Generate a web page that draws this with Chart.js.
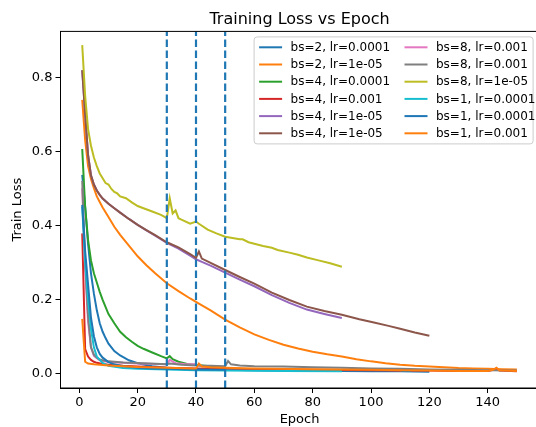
<!DOCTYPE html>
<html>
<head>
<meta charset="utf-8">
<script src="https://cdn.jsdelivr.net/npm/chart.js@4.4.1/dist/chart.umd.min.js"></script>
<style>
html, body { margin: 0; padding: 0; background: #fff; overflow: hidden; }
#wrap { width: 536px; height: 427px; overflow: hidden; }
</style>
</head>
<body>
<div id="wrap"><canvas id="lossChart" width="540" height="427" style="width:540px;height:427px"></canvas></div>
<script>
const seriesLabels = [
    'bs=2, lr=0.0001', 'bs=2, lr=1e-05', 'bs=4, lr=0.0001', 'bs=4, lr=0.001',
    'bs=4, lr=1e-05', 'bs=4, lr=1e-05', 'bs=8, lr=0.001', 'bs=8, lr=0.001',
    'bs=8, lr=1e-05', 'bs=1, lr=0.0001', 'bs=1, lr=0.0001', 'bs=1, lr=0.001'
];
const seriesColors = [
    '#1f77b4', '#ff7f0e', '#2ca02c', '#d62728', '#9467bd', '#8c564b',
    '#e377c2', '#7f7f7f', '#bcbd22', '#17becf', '#1f77b4', '#ff7f0e'
];

// bs=2, lr=0.0001
const epochsS2e4 = [1, 2, 3, 4, 5, 6, 7, 8, 9, 10, 12, 14, 17, 20, 25, 30, 35, 40, 50, 60, 70, 80, 90, 100, 110, 120];
const lossS2e4 = [0.536, 0.45, 0.35, 0.27, 0.215, 0.17, 0.135, 0.112, 0.095, 0.08, 0.06, 0.048, 0.035, 0.027, 0.019, 0.015, 0.013, 0.011, 0.009, 0.008, 0.007, 0.006, 0.006, 0.005, 0.005, 0.004];
// bs=2, lr=1e-05
const epochsS2e5 = [1, 2, 3, 4, 5, 6, 7, 8, 10, 12, 14, 17, 20, 23, 26, 30, 34, 38, 41, 45, 50, 55, 60, 65, 70, 75, 80, 85, 90, 95, 100, 105, 110, 115, 120, 125, 130, 135, 140, 145, 150];
const lossS2e5 = [0.739, 0.63, 0.56, 0.525, 0.5, 0.478, 0.463, 0.448, 0.422, 0.396, 0.374, 0.345, 0.316, 0.292, 0.27, 0.243, 0.222, 0.202, 0.188, 0.17, 0.145, 0.124, 0.105, 0.09, 0.077, 0.067, 0.058, 0.051, 0.045, 0.038, 0.032, 0.027, 0.023, 0.02, 0.018, 0.016, 0.014, 0.013, 0.012, 0.011, 0.01];
// bs=4, lr=0.0001
const epochsS4e4 = [1, 2, 3, 4, 5, 6, 7, 8, 10, 12, 14, 16, 18, 20, 22, 25, 28, 30, 31, 32, 34, 37, 40, 43, 46, 50];
const lossS4e4 = [0.606, 0.45, 0.36, 0.305, 0.27, 0.245, 0.22, 0.198, 0.16, 0.135, 0.112, 0.097, 0.085, 0.074, 0.066, 0.056, 0.046, 0.04, 0.046, 0.038, 0.031, 0.025, 0.022, 0.02, 0.018, 0.016];
// bs=4, lr=0.001
const epochsS4e3 = [1, 2, 3, 4, 5, 6, 8, 10, 15, 20, 30, 40, 50, 60, 80, 100, 110, 112, 114, 120, 130, 140, 142, 143, 144, 150];
const lossS4e3 = [0.378, 0.065, 0.045, 0.036, 0.031, 0.028, 0.025, 0.023, 0.02, 0.018, 0.015, 0.013, 0.012, 0.011, 0.009, 0.008, 0.007, 0.011, 0.007, 0.007, 0.006, 0.006, 0.009, 0.013, 0.007, 0.005];
// bs=4, lr=1e-05 (first run)
const epochsS4e5a = [1, 2, 3, 4, 5, 6, 7, 8, 10, 12, 14, 17, 20, 23, 26, 30, 34, 38, 40, 42, 45, 50, 55, 60, 66, 72, 78, 84, 90];
const lossS4e5a = [0.819, 0.70, 0.59, 0.535, 0.51, 0.494, 0.482, 0.472, 0.458, 0.446, 0.434, 0.417, 0.401, 0.386, 0.372, 0.352, 0.337, 0.318, 0.308, 0.301, 0.291, 0.272, 0.253, 0.235, 0.211, 0.19, 0.172, 0.16, 0.149];
// bs=4, lr=1e-05 (second run)
const epochsS4e5b = [1, 2, 3, 4, 5, 6, 7, 8, 10, 12, 14, 17, 20, 23, 26, 30, 34, 38, 40, 41, 42, 45, 50, 55, 60, 66, 72, 78, 84, 90, 96, 101, 106, 110, 115, 120];
const lossS4e5b = [0.819, 0.70, 0.59, 0.535, 0.51, 0.494, 0.482, 0.472, 0.458, 0.446, 0.434, 0.417, 0.401, 0.387, 0.373, 0.354, 0.34, 0.322, 0.312, 0.329, 0.31, 0.298, 0.279, 0.26, 0.242, 0.218, 0.198, 0.18, 0.168, 0.158, 0.146, 0.137, 0.128, 0.12, 0.11, 0.101];
// bs=8, lr=0.001 (first run)
const epochsS8e3a = [1, 2, 3, 4, 5, 7, 10, 20, 30, 31, 33, 36, 40];
const lossS8e3a = [0.5, 0.28, 0.14, 0.07, 0.047, 0.035, 0.03, 0.026, 0.024, 0.036, 0.027, 0.025, 0.024];
// bs=8, lr=0.001 (second run)
const epochsS8e3b = [1, 2, 3, 4, 5, 6, 7, 8, 10, 15, 22, 30, 31, 35, 40, 45, 50, 51, 52, 55, 60, 70, 80, 90, 100, 110, 120, 130, 140, 150];
const lossS8e3b = [0.52, 0.3, 0.155, 0.07, 0.05, 0.042, 0.037, 0.035, 0.032, 0.029, 0.027, 0.024, 0.026, 0.023, 0.021, 0.02, 0.019, 0.033, 0.024, 0.021, 0.019, 0.018, 0.016, 0.015, 0.013, 0.012, 0.01, 0.009, 0.008, 0.007];
// bs=8, lr=1e-05
const epochsS8e5 = [1, 2, 3, 4, 5, 6, 7, 8, 9, 10, 11, 12, 13, 14, 16, 18, 20, 22, 25, 28, 30, 31, 32, 33, 34, 35, 38, 40, 41, 44, 47, 50, 53, 55, 56, 58, 60, 63, 66, 68, 72, 75, 78, 82, 86, 90];
const lossS8e5 = [0.887, 0.75, 0.66, 0.615, 0.583, 0.56, 0.54, 0.527, 0.514, 0.51, 0.498, 0.49, 0.486, 0.478, 0.473, 0.462, 0.452, 0.446, 0.437, 0.428, 0.419, 0.473, 0.432, 0.44, 0.419, 0.415, 0.404, 0.41, 0.404, 0.388, 0.378, 0.369, 0.365, 0.362, 0.362, 0.354, 0.35, 0.344, 0.339, 0.333, 0.326, 0.32, 0.313, 0.305, 0.297, 0.288];
// bs=1, lr=0.0001 (first run)
const epochsS1e4a = [1, 2, 3, 4, 5, 6, 8, 10, 15, 20, 30, 40, 50, 70, 90];
const lossS1e4a = [0.45, 0.3, 0.2, 0.12, 0.07, 0.045, 0.028, 0.02, 0.014, 0.012, 0.01, 0.008, 0.007, 0.006, 0.005];
// bs=1, lr=0.0001 (second run)
const epochsS1e4b = [1, 2, 3, 4, 5, 6, 7, 8, 10, 12, 15, 20, 25, 30, 40, 50];
const lossS1e4b = [0.455, 0.33, 0.24, 0.15, 0.1, 0.07, 0.052, 0.042, 0.03, 0.024, 0.019, 0.015, 0.013, 0.012, 0.01, 0.009];
// bs=1, lr=0.001
const epochsS1e3 = [1, 2, 3, 5, 10, 20, 30, 39, 40, 41, 42, 45, 50, 60, 80, 100, 110, 120, 130, 140, 142, 143, 144, 150];
const lossS1e3 = [0.147, 0.031, 0.026, 0.024, 0.021, 0.017, 0.015, 0.013, 0.012, 0.026, 0.018, 0.016, 0.015, 0.013, 0.011, 0.009, 0.008, 0.007, 0.006, 0.006, 0.01, 0.015, 0.008, 0.006];

const seriesEpochs = [epochsS2e4, epochsS2e5, epochsS4e4, epochsS4e3, epochsS4e5a, epochsS4e5b, epochsS8e3a, epochsS8e3b, epochsS8e5, epochsS1e4a, epochsS1e4b, epochsS1e3];
const seriesLoss = [lossS2e4, lossS2e5, lossS4e4, lossS4e3, lossS4e5a, lossS4e5b, lossS8e3a, lossS8e3b, lossS8e5, lossS1e4a, lossS1e4b, lossS1e3];

const xTicks = [0, 20, 40, 60, 80, 100, 120, 140];
const yTicks = [0, 0.2, 0.4, 0.6, 0.8];
const vlines = [30, 40, 50];

const FONT = '"DejaVu Sans", sans-serif';
Chart.defaults.font.family = FONT;
Chart.defaults.color = '#000';

// later series are drawn on top, like matplotlib
const datasets = seriesLabels.map((label, i) => ({
    label,
    data: seriesEpochs[i].map((e, j) => ({ x: e, y: seriesLoss[i][j] })),
    borderColor: seriesColors[i],
    backgroundColor: seriesColors[i],
    borderWidth: 2,
    pointRadius: 0,
    tension: 0,
    fill: false,
    order: seriesLabels.length - i,
}));

const overlay = {
    id: 'overlay',
    afterDatasetsDraw(chart) {
        const { ctx, chartArea: a, scales: { x } } = chart;
        ctx.save();
        ctx.beginPath();
        ctx.rect(a.left, a.top, a.right - a.left, a.bottom - a.top);
        ctx.clip();
        ctx.strokeStyle = '#1f77b4';
        ctx.lineWidth = 2.2;
        ctx.setLineDash([7.5, 3.5]);
        vlines.forEach(v => {
            const px = x.getPixelForValue(v);
            ctx.beginPath();
            ctx.moveTo(px, a.bottom);
            ctx.lineTo(px, a.top);
            ctx.stroke();
        });
        ctx.restore();
    },
    afterDraw(chart) {
        const { ctx, chartArea: a } = chart;
        ctx.save();
        // frame
        ctx.strokeStyle = '#000';
        ctx.lineWidth = 1;
        ctx.strokeRect(a.left, a.top, a.right - a.left, a.bottom - a.top);

        // title
        ctx.fillStyle = '#000';
        ctx.font = '16px ' + FONT;
        ctx.textAlign = 'center';
        ctx.textBaseline = 'alphabetic';
        ctx.fillText('Training Loss vs Epoch', (a.left + a.right) / 2, 24);

        // legend, sorted back to dataset order
        const items = chart.data.datasets;
        const bw = 279, bh = 107;
        const bx = a.right - 5.5 - bw, by = a.top + 5.5;
        ctx.beginPath();
        ctx.roundRect(bx, by, bw, bh, 3);
        ctx.fillStyle = 'rgba(255,255,255,0.8)';
        ctx.fill();
        ctx.strokeStyle = '#cccccc';
        ctx.stroke();
        ctx.font = '12px ' + FONT;
        ctx.textAlign = 'left';
        ctx.textBaseline = 'middle';
        items.forEach((ds, i) => {
            const col = Math.floor(i / 6), row = i % 6;
            const cx = bx + 5 + col * 145.4;
            const cy = by + 10.4 + row * 17.2;
            ctx.strokeStyle = ds.borderColor;
            ctx.lineWidth = 2;
            ctx.beginPath();
            ctx.moveTo(cx, cy);
            ctx.lineTo(cx + 23, cy);
            ctx.stroke();
            ctx.fillStyle = '#000';
            ctx.fillText(ds.label, cx + 31.5, cy + 0.5);
        });
        ctx.restore();
    }
};

new Chart(document.getElementById('lossChart'), {
    type: 'line',
    data: { datasets },
    options: {
        responsive: false,
        animation: false,
        layout: { padding: { top: 31.4, right: 1.4, left: 0, bottom: 0 } },
        plugins: { legend: { display: false }, tooltip: { enabled: false } },
        scales: {
            x: {
                type: 'linear',
                min: -6.45,
                max: 157.45,
                afterBuildTicks: s => { s.ticks = xTicks.map(v => ({ value: v })); },
                afterFit: s => { s.height = 39; },
                ticks: { font: { size: 13 }, color: '#000', padding: 2, maxRotation: 0, callback: v => String(v) },
                grid: { drawOnChartArea: false, drawTicks: true, tickLength: 5, color: '#000', lineWidth: 1 },
                border: { display: true, color: '#000', width: 1 },
                title: { display: true, text: 'Epoch', font: { size: 13 }, color: '#000', padding: { top: 0, bottom: 0 } }
            },
            y: {
                type: 'linear',
                min: -0.04,
                max: 0.924,
                afterBuildTicks: s => { s.ticks = yTicks.map(v => ({ value: v })); },
                afterFit: s => { s.width = 60.5; },
                ticks: { font: { size: 13 }, color: '#000', padding: 3, callback: v => v.toFixed(1) },
                grid: { drawOnChartArea: false, drawTicks: true, tickLength: 5, color: '#000', lineWidth: 1 },
                border: { display: true, color: '#000', width: 1 },
                title: { display: true, text: 'Train Loss', font: { size: 13 }, color: '#000', padding: { top: 10, bottom: 0 } }
            }
        }
    },
    plugins: [overlay]
});
</script>
</body>
</html>
